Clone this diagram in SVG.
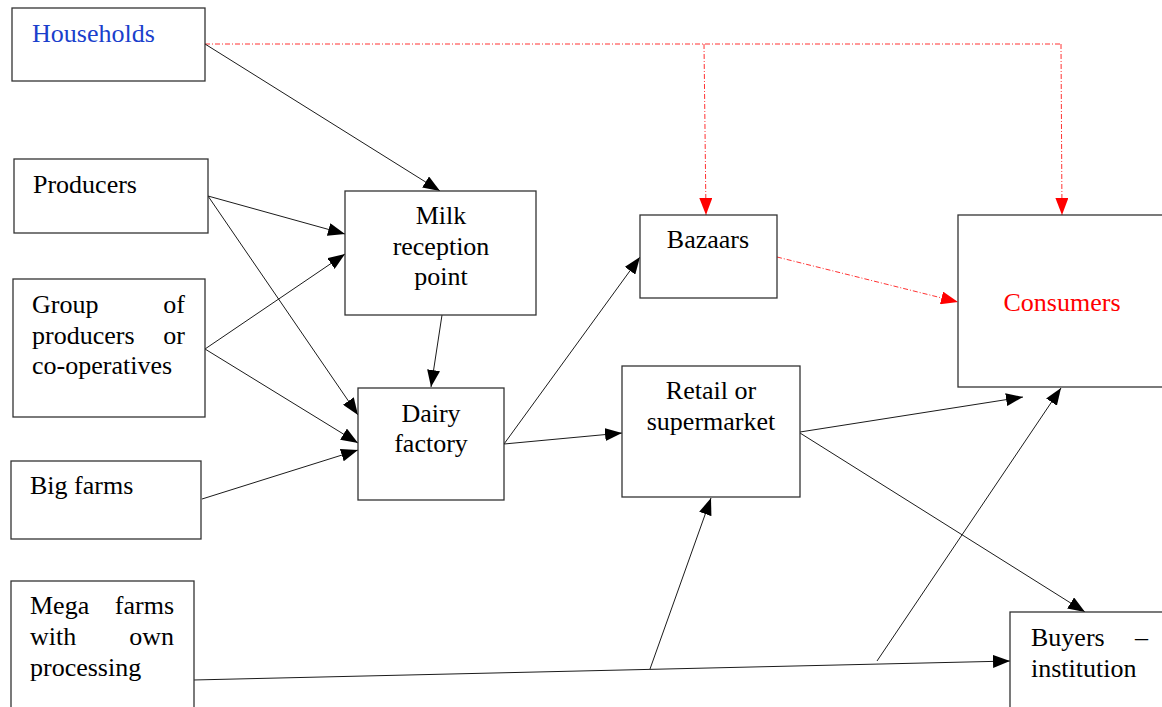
<svg xmlns="http://www.w3.org/2000/svg" width="1162" height="707" viewBox="0 0 1162 707">
  <style>
    .box { fill: #ffffff; stroke: #333333; stroke-width: 1.3; }
    .lbl { font-size: 26px; fill: #000000; }
    .mid { text-anchor: middle; }
    .end { text-anchor: end; }
    .flow { stroke: #000000; stroke-width: 0.9; fill: none; marker-end: url(#arrow); }
    .direct { stroke: #ff3333; stroke-width: 1; fill: none; stroke-dasharray: 5 2 1 2; }
    .direct-arrow { marker-end: url(#arrowRed); }
  </style>
  <defs>
    <marker id="arrow" markerUnits="userSpaceOnUse" markerWidth="17" markerHeight="13" refX="17" refY="6.5" orient="auto">
      <path d="M0,0 L17,6.5 L0,13 z" fill="#000000"/>
    </marker>
    <marker id="arrowRed" markerUnits="userSpaceOnUse" markerWidth="17" markerHeight="13" refX="17" refY="6.5" orient="auto">
      <path d="M0,0 L17,6.5 L0,13 z" fill="#ff0000"/>
    </marker>
  </defs>
  <rect width="1162" height="707" fill="#ffffff"/>

  <g id="connectors">
    <!-- direct sales from households (dash-dot) -->
    <path class="direct" d="M205,44 L1061,44"/>
    <path class="direct direct-arrow" d="M704,44 L706,215"/>
    <path class="direct direct-arrow" d="M1061,44 L1062,215"/>
    <path class="direct direct-arrow" d="M777,257 L958,302"/>

    <!-- supply lines -->
    <line class="flow" x1="205" y1="44" x2="440" y2="191"/>
    <line class="flow" x1="208" y1="196" x2="345" y2="234"/>
    <line class="flow" x1="208" y1="196" x2="358" y2="415"/>
    <line class="flow" x1="205" y1="349" x2="345" y2="254"/>
    <line class="flow" x1="205" y1="349" x2="358" y2="443"/>
    <line class="flow" x1="202" y1="499" x2="358" y2="450"/>
    <line class="flow" x1="442" y1="315" x2="431" y2="387"/>
    <line class="flow" x1="504" y1="444" x2="640" y2="257"/>
    <line class="flow" x1="504" y1="444" x2="622" y2="433"/>
    <line class="flow" x1="800" y1="432" x2="1023" y2="397"/>
    <line class="flow" x1="800" y1="433" x2="1085" y2="612"/>
    <line class="flow" x1="193" y1="680" x2="1010" y2="661"/>
    <line class="flow" x1="650" y1="669" x2="711" y2="498"/>
    <line class="flow" x1="877" y1="661" x2="1061" y2="388"/>
  </g>

  <g font-family="'Liberation Serif', 'Times New Roman', serif">
    <g id="households">
      <rect class="box" x="12" y="8" width="193" height="73"/>
      <text class="lbl" x="32" y="42" fill="#1a3fcc" style="fill:#1a3fcc">Households</text>
    </g>
    <g id="producers">
      <rect class="box" x="14" y="159" width="194" height="74"/>
      <text class="lbl" x="33" y="193">Producers</text>
    </g>
    <g id="group-producers">
      <rect class="box" x="13" y="279" width="192" height="138"/>
      <text class="lbl" x="32" y="313">Group</text>
      <text class="lbl end" x="185" y="313">of</text>
      <text class="lbl" x="32" y="344">producers</text>
      <text class="lbl end" x="185" y="344">or</text>
      <text class="lbl" x="32" y="374">co-operatives</text>
    </g>
    <g id="big-farms">
      <rect class="box" x="11" y="461" width="190" height="78"/>
      <text class="lbl" x="30" y="494">Big farms</text>
    </g>
    <g id="mega-farms">
      <rect class="box" x="11" y="581" width="183" height="130"/>
      <text class="lbl" x="30" y="614">Mega</text>
      <text class="lbl end" x="174" y="614">farms</text>
      <text class="lbl" x="30" y="645">with</text>
      <text class="lbl end" x="174" y="645">own</text>
      <text class="lbl" x="30" y="676">processing</text>
    </g>
    <g id="milk-reception">
      <rect class="box" x="345" y="191" width="191" height="124"/>
      <text class="lbl mid" x="441" y="224">Milk</text>
      <text class="lbl mid" x="441" y="255">reception</text>
      <text class="lbl mid" x="441" y="285">point</text>
    </g>
    <g id="dairy-factory">
      <rect class="box" x="358" y="388" width="146" height="112"/>
      <text class="lbl mid" x="431" y="422">Dairy</text>
      <text class="lbl mid" x="431" y="452">factory</text>
    </g>
    <g id="bazaars">
      <rect class="box" x="640" y="215" width="137" height="83"/>
      <text class="lbl mid" x="708" y="248">Bazaars</text>
    </g>
    <g id="retail">
      <rect class="box" x="622" y="366" width="178" height="131"/>
      <text class="lbl mid" x="711" y="399">Retail or</text>
      <text class="lbl mid" x="711" y="430">supermarket</text>
    </g>
    <g id="consumers">
      <rect class="box" x="958" y="215" width="210" height="172"/>
      <text class="lbl mid" x="1062" y="311" style="fill:#ff0000">Consumers</text>
    </g>
    <g id="buyers">
      <rect class="box" x="1010" y="612" width="160" height="100"/>
      <text class="lbl" x="1031" y="646">Buyers</text>
      <text class="lbl end" x="1148" y="646">–</text>
      <text class="lbl" x="1031" y="677">institution</text>
    </g>
  </g>
</svg>
